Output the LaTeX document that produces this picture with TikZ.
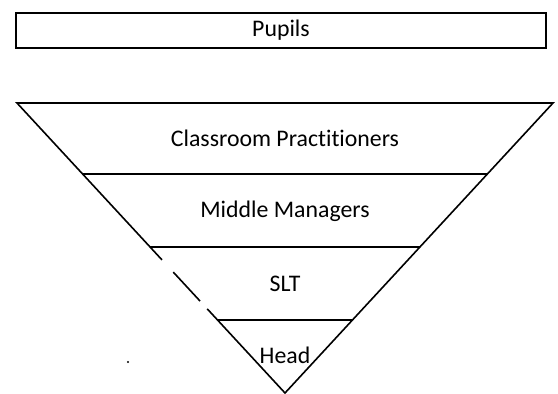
\documentclass[tikz,border=0pt]{standalone}
\usepackage{fontspec}
\setmainfont{Carlito}[Ligatures={NoCommon}]
\usepackage{tikz}
\usetikzlibrary{calc}

\begin{document}
\begin{tikzpicture}[x=1pt, y=-1pt, line width=1.6pt, font=\fontsize{23.8}{28}\selectfont]
\useasboundingbox (0,0) rectangle (558,394);

\node[draw, minimum width=530pt, minimum height=35pt, inner sep=0pt] (pupils) at (281,30.5) {Pupils};

\coordinate (tl) at (17,103);
\coordinate (tr) at (553,103);
\coordinate (apex) at (285,393);

% the triangle, left side broken twice
\draw ($(tl)!0.541!(apex)$) -- (tl) -- (tr) -- (apex) -- ($(tl)!0.71!(apex)$);
\draw ($(tl)!0.583!(apex)$) -- ($(tl)!0.683!(apex)$);

% layers
\draw ($(tl)!0.245!(apex)$) -- ($(tr)!0.245!(apex)$);
\draw ($(tl)!0.497!(apex)$) -- ($(tr)!0.497!(apex)$);
\draw ($(tl)!0.748!(apex)$) -- ($(tr)!0.748!(apex)$);

\node (teachers) at (285,138) {Classroom Practitioners};
\node (middle) at (285,211) {Middle Managers};
\node (slt) at (285,284) {SLT};
\node (head) at (285,355) {Head};

\fill (128,362) circle (1.2pt);
\end{tikzpicture}
\end{document}
